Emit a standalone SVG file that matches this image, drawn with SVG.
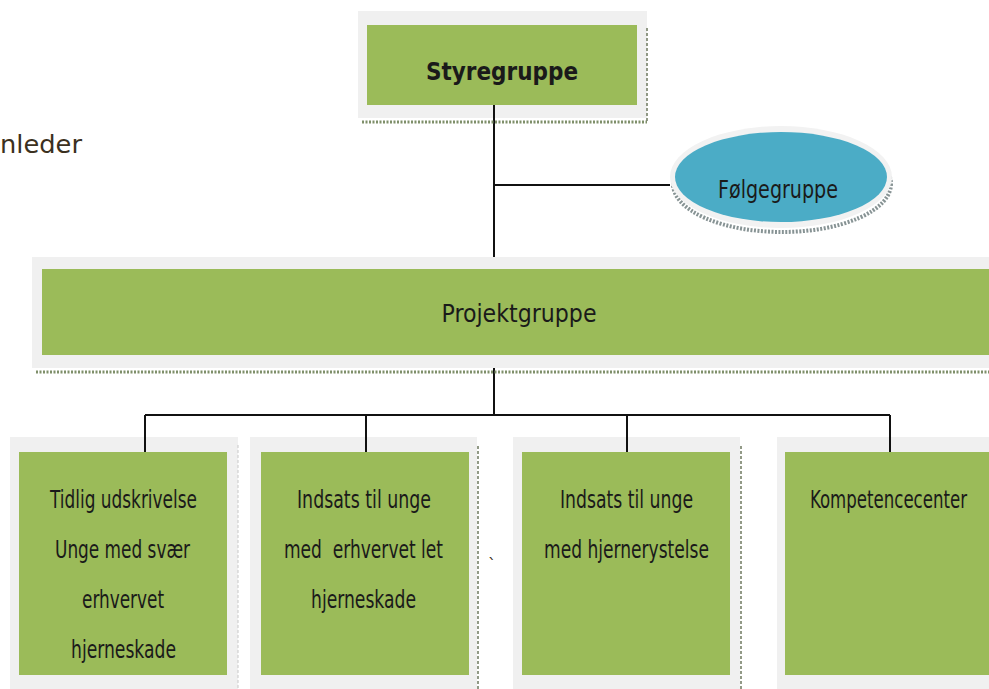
<svg xmlns="http://www.w3.org/2000/svg" width="989" height="689" viewBox="0 0 989 689">
<style>
.frame{fill:#f0f0f0}
.box{fill:#9bbb59}
.sh{stroke:#7f8f6a;stroke-width:3;stroke-dasharray:2 1.5;fill:none}
.shv{stroke:#6f7a60;stroke-width:1.5;stroke-dasharray:3 2;fill:none}
.conn{stroke:#111;stroke-width:2;fill:none}
.t{font-family:"DejaVu Sans Condensed","DejaVu Sans",sans-serif;font-size:24px;fill:#1a1a1a;text-anchor:middle}
</style>
<rect width="989" height="689" fill="#ffffff"/>
<text x="0" y="153" font-family="DejaVu Sans, sans-serif" font-size="24" fill="#3b3020" textLength="82" lengthAdjust="spacingAndGlyphs">nleder</text>
<g id="connectors">
<line class="conn" x1="494" y1="105" x2="494" y2="262"/>
<line class="conn" x1="494" y1="185" x2="670" y2="185"/>
<line class="conn" x1="494" y1="355" x2="494" y2="415"/>
<line class="conn" x1="145" y1="415" x2="890" y2="415"/>
<line class="conn" x1="145" y1="415" x2="145" y2="452"/>
<line class="conn" x1="366" y1="415" x2="366" y2="452"/>
<line class="conn" x1="627" y1="415" x2="627" y2="452"/>
<line class="conn" x1="890" y1="415" x2="890" y2="452"/>
</g>
<g id="styregruppe">
<rect class="frame" x="358" y="11" width="289" height="107"/>
<line class="sh" x1="362" y1="122" x2="647" y2="122"/>
<line class="shv" x1="647" y1="28" x2="647" y2="122"/>
<rect class="box" x="367" y="25" width="270" height="80"/>
<line class="conn" x1="494" y1="105" x2="494" y2="118"/>
<text class="t" x="502" y="80" font-weight="bold" font-size="25" textLength="152" lengthAdjust="spacingAndGlyphs">Styregruppe</text>
</g>
<g id="foelgegruppe">
<ellipse cx="782" cy="184" rx="109" ry="48" fill="none" stroke="#5f6f70" stroke-width="4" stroke-dasharray="2 1.5" opacity="0.75"/>
<ellipse cx="781" cy="177" rx="111" ry="51" fill="#f2f2f2"/>
<ellipse cx="781" cy="177" rx="106" ry="45" fill="#4bacc6"/>
<text class="t" x="778" y="198" font-size="25" textLength="120" lengthAdjust="spacingAndGlyphs">Følgegruppe</text>
</g>
<g id="projektgruppe">
<rect class="frame" x="32" y="257" width="957" height="111"/>
<line class="sh" x1="36" y1="372" x2="989" y2="372"/>
<rect class="box" x="42" y="269" width="947" height="86"/>
<text class="t" x="519" y="322" font-size="26" textLength="155" lengthAdjust="spacingAndGlyphs">Projektgruppe</text>
</g>
<g id="box1">
<rect class="frame" x="10" y="437" width="228" height="252"/>
<line x1="238" y1="445" x2="238" y2="689" stroke="#c8c8c8" stroke-width="1" stroke-dasharray="3 2"/>
<rect class="box" x="19" y="452" width="208" height="223"/>
<line class="conn" x1="145" y1="437" x2="145" y2="452"/>
<text class="t" x="123.5" y="508" textLength="147" lengthAdjust="spacingAndGlyphs">Tidlig udskrivelse</text>
<text class="t" x="122.5" y="558" textLength="135" lengthAdjust="spacingAndGlyphs">Unge med svær</text>
<text class="t" x="123" y="608" textLength="82" lengthAdjust="spacingAndGlyphs">erhvervet</text>
<text class="t" x="123.5" y="658" textLength="105" lengthAdjust="spacingAndGlyphs">hjerneskade</text>
</g>
<g id="box2">
<rect class="frame" x="250" y="437" width="227" height="252"/>
<line class="shv" x1="478" y1="446" x2="478" y2="689"/>
<rect class="box" x="261" y="452" width="208" height="223"/>
<line class="conn" x1="366" y1="437" x2="366" y2="452"/>
<text class="t" x="364" y="508" textLength="134" lengthAdjust="spacingAndGlyphs">Indsats til unge</text>
<text class="t" x="363.5" y="558" xml:space="preserve" textLength="159" lengthAdjust="spacingAndGlyphs">med  erhvervet let</text>
<text class="t" x="363.5" y="608" textLength="105" lengthAdjust="spacingAndGlyphs">hjerneskade</text>
</g>
<text x="492" y="570" font-family="DejaVu Sans, sans-serif" font-size="16" fill="#3b3020" text-anchor="middle">`</text>
<g id="box3">
<rect class="frame" x="513" y="437" width="227" height="252"/>
<line class="shv" x1="741" y1="446" x2="741" y2="689"/>
<rect class="box" x="522" y="452" width="208" height="223"/>
<line class="conn" x1="627" y1="437" x2="627" y2="452"/>
<text class="t" x="626.5" y="508" textLength="133" lengthAdjust="spacingAndGlyphs">Indsats til unge</text>
<text class="t" x="626.5" y="558" textLength="165" lengthAdjust="spacingAndGlyphs">med hjernerystelse</text>
</g>
<g id="box4">
<rect class="frame" x="777" y="437" width="212" height="252"/>
<rect class="box" x="785" y="452" width="204" height="223"/>
<line class="conn" x1="890" y1="437" x2="890" y2="452"/>
<text class="t" x="888.5" y="508" font-size="21" textLength="157" lengthAdjust="spacingAndGlyphs">Kompetencecenter</text>
</g>
</svg>
